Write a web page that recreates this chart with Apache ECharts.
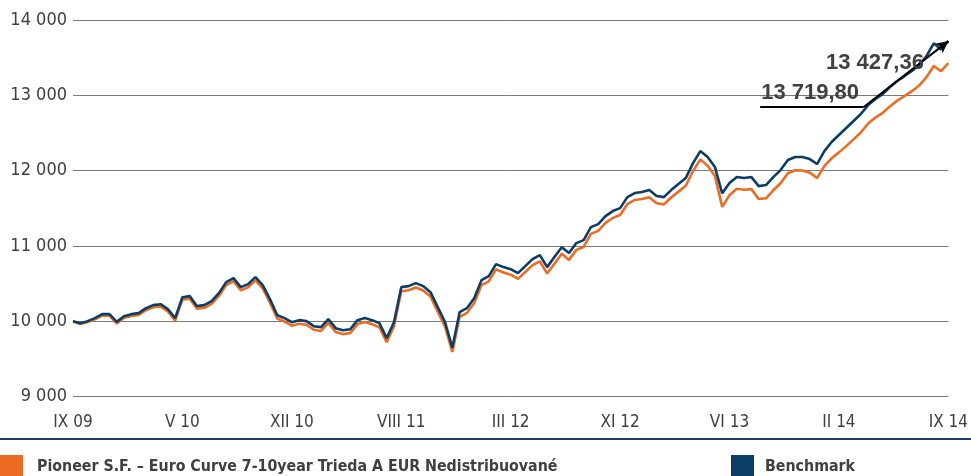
<!DOCTYPE html>
<html>
<head>
<meta charset="utf-8">
<script src="https://cdn.jsdelivr.net/npm/echarts@6/dist/echarts.min.js"></script>
<style>
html,body{margin:0;padding:0;background:#fff;}
#c{width:971px;height:476px;}
</style>
</head>
<body>
<div id="c"></div>
<script>
// Tick labels on the x axis (every 7.5 months, half-month steps of 15)
var tickLabels = ["IX 09", "V 10", "XII 10", "VIII 11", "III 12", "XI 12", "VI 13", "II 14", "IX 14"];
var seriesNames = ["Pioneer S.F. – Euro Curve 7-10year Trieda A EUR Nedistribuované", "Benchmark"];

// Benchmark values (half-monthly, IX 09 .. IX 14)
var benchmark = [
  10000, 9976, 10003, 10043, 10096, 10096, 9993, 10069, 10096, 10109,
  10175, 10215, 10228, 10162, 10043, 10321, 10335, 10202, 10215, 10268,
  10375, 10521, 10574, 10454, 10494, 10587, 10481, 10295, 10082, 10043,
  9989, 10016, 10003, 9936, 9923, 10029, 9910, 9883, 9896, 10016,
  10043, 10016, 9976, 9777, 9989, 10454, 10468, 10507, 10468, 10388,
  10189, 9989, 9650, 10122, 10175, 10308, 10547, 10600, 10760, 10720,
  10693, 10640, 10733, 10826, 10879, 10720, 10853, 10985, 10906, 11039,
  11078, 11251, 11291, 11397, 11464, 11503, 11649, 11703, 11716, 11742,
  11663, 11649, 11742, 11822, 11902, 12101, 12260, 12181, 12048, 11700,
  11835, 11915, 11902, 11915, 11795, 11809, 11915, 12008, 12141, 12181,
  12181, 12154, 12088, 12260, 12380, 12473, 12566, 12659, 12752, 12871,
  12951, 13017, 13110, 13190, 13256, 13323, 13402, 13522, 13690, 13610,
  13719.80
];

// Fund values
var fund = [
  10000, 9966, 9991, 10028, 10078, 10076, 9971, 10047, 10072, 10084,
  10148, 10187, 10198, 10132, 10011, 10289, 10301, 10167, 10180, 10232,
  10337, 10481, 10534, 10414, 10452, 10545, 10438, 10251, 10037, 9998,
  9943, 9969, 9955, 9888, 9873, 9979, 9860, 9831, 9844, 9964,
  9990, 9963, 9922, 9722, 9934, 10399, 10412, 10450, 10410, 10330,
  10129, 9929, 9595, 10060, 10112, 10244, 10481, 10532, 10690, 10648,
  10619, 10564, 10655, 10746, 10797, 10634, 10765, 10897, 10816, 10949,
  10988, 11161, 11201, 11307, 11372, 11411, 11557, 11611, 11623, 11648,
  11568, 11553, 11644, 11722, 11800, 11996, 12150, 12066, 11928, 11520,
  11675, 11760, 11747, 11755, 11625, 11634, 11740, 11833, 11966, 12006,
  12003, 11974, 11903, 12060, 12165, 12243, 12326, 12416, 12507, 12626,
  12706, 12767, 12855, 12930, 12991, 13055, 13130, 13242, 13390, 13320,
  13427.36
];

// Annotation texts and the arrow's anchor values
var annotFund = "13 427,36";
var annotBench = "13 719,80";
var arrowStartIdx = 94.2, arrowKneeIdx = 108.4, arrowLevel = 12845;

var ORANGE = "#ec6c24";
var NAVY = "#0c3d66";
var TXT = "#404040";
var COND = "'DejaVu Sans Condensed', 'Liberation Sans', sans-serif";

function pairs(arr) { return arr.map(function (v, i) { return [i, v]; }); }
function fmtThousands(v) {
  var s = String(Math.round(v));
  return s.replace(/\B(?=(\d{3})+(?!\d))/g, " ");
}

var chart = echarts.init(document.getElementById('c'), null, { renderer: 'canvas' });
var lastIdx = benchmark.length - 1;

var baseGraphic = {
  type: 'rect', left: 0, top: 438, silent: true,
  shape: { width: 971, height: 2 },
  style: { fill: '#1b3d5e' }
};

chart.setOption({
  animation: false,
  backgroundColor: '#fff',
  grid: { left: 73, right: 19, top: 20, bottom: 79.3, containLabel: false },
  xAxis: {
    type: 'value',
    min: 0, max: lastIdx, interval: 15,
    axisLine: { show: false },
    axisTick: { show: false },
    splitLine: { show: false },
    axisLabel: {
      margin: 17,
      color: TXT,
      fontFamily: COND,
      fontSize: 17,
      showMinLabel: true, showMaxLabel: true,
      formatter: function (v) { return tickLabels[Math.round(v / 15)] || ''; }
    }
  },
  yAxis: {
    type: 'value',
    min: 9000, max: 14000, interval: 1000,
    axisLine: { show: false },
    axisTick: { show: false },
    splitLine: { lineStyle: { color: '#7a7a7a', width: 1 } },
    axisLabel: {
      margin: 6,
      color: TXT,
      fontFamily: COND,
      fontSize: 18,
      formatter: fmtThousands
    }
  },
  legend: [
    {
      data: [seriesNames[0]],
      left: 0, top: 455,
      padding: 0,
      itemWidth: 23, itemHeight: 23,
      icon: 'rect',
      selectedMode: false,
      textStyle: { color: TXT, fontFamily: COND, fontWeight: 'bold', fontSize: 15.8, padding: [0, 0, 0, 9] }
    },
    {
      data: [seriesNames[1]],
      left: 731, top: 455,
      padding: 0,
      itemWidth: 23, itemHeight: 23,
      icon: 'rect',
      selectedMode: false,
      textStyle: { color: TXT, fontFamily: COND, fontWeight: 'bold', fontSize: 15.8, padding: [0, 0, 0, 6] }
    }
  ],
  series: [
    {
      name: seriesNames[0],
      type: 'line',
      data: pairs(fund),
      showSymbol: false,
      symbol: 'none',
      color: ORANGE,
      lineStyle: { color: ORANGE, width: 2.6 },
      z: 2
    },
    {
      name: seriesNames[1],
      type: 'line',
      data: pairs(benchmark),
      showSymbol: false,
      symbol: 'none',
      color: NAVY,
      lineStyle: { color: NAVY, width: 2.6 },
      z: 3,
      markLine: {
        silent: true,
        animation: false,
        label: { show: false },
        lineStyle: { color: '#000', width: 2, type: 'solid' },
        emphasis: { disabled: true },
        symbolSize: [9, 12],
        data: [
          [
            { coord: [arrowStartIdx, arrowLevel], symbol: 'none' },
            { coord: [arrowKneeIdx, arrowLevel], symbol: 'none' }
          ],
          [
            { coord: [arrowKneeIdx, arrowLevel], symbol: 'none' },
            { coord: [lastIdx, benchmark[lastIdx]], symbol: 'arrow' }
          ]
        ]
      }
    }
  ],
  graphic: [baseGraphic]
});

// annotation labels placed via the data scale
function placeAnnotations() {
  var pF = chart.convertToPixel({ gridIndex: 0 }, [arrowStartIdx, arrowLevel]);
  chart.setOption({
    graphic: [
      baseGraphic,
      {
        type: 'text', silent: true, z: 10,
        style: { text: annotFund, x: 826, y: 63, fill: TXT, font: "bold 22px 'Liberation Sans', sans-serif", verticalAlign: 'middle' }
      },
      {
        type: 'text', silent: true, z: 10,
        style: { text: annotBench, x: pF[0] + 1, y: 93, fill: TXT, font: "bold 22px 'Liberation Sans', sans-serif", verticalAlign: 'middle' }
      }
    ]
  });
}
placeAnnotations();
</script>
</body>
</html>
